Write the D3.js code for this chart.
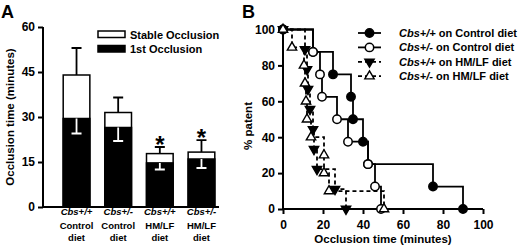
<!DOCTYPE html>
<html>
<head>
<meta charset="UTF-8">
<script src="https://cdnjs.cloudflare.com/ajax/libs/d3/7.8.5/d3.min.js"></script>
<style>
  body { margin: 0; background: #fff; }
  svg { display: block; font-family: "Liberation Sans", Arial, sans-serif; font-weight: bold; }
</style>
</head>
<body>
<div id="chart"></div>
<script>
// ---- panel A data ----
const genotypes = ["Cbs+/+", "Cbs+/-", "Cbs+/+", "Cbs+/-"];
const diets = ["Control", "Control", "HM/LF", "HM/LF"];
const firstOcc = [29.5, 26.5, 14.7, 16.0];
const firstErr = [5.0, 4.5, 2.2, 3.0];
const stableOcc = [44.0, 31.5, 17.8, 18.3];
const stableErr = [9.0, 5.0, 2.2, 4.0];
const significant = [false, false, true, true];
const ticksA = [0, 15, 30, 45, 60];

// ---- panel B data (event times, minutes / % patent) ----
const wtCtrlT = [0, 15, 25, 34, 35, 40, 42.5, 75, 90];
const wtCtrlP = [100, 87.5, 75, 62.5, 50, 37.5, 25, 12.5, 0];
const hetCtrlT = [0, 15, 18.5, 19.5, 27, 32.5, 42.5, 46, 49];
const hetCtrlP = [100, 87.5, 75, 62.5, 50, 37.5, 25, 12.5, 0];
const wtHmT = [0, 11, 12, 12.5, 13.5, 15, 15.5, 17, 26, 31.5];
const wtHmP = [100, 88.9, 77.8, 66.7, 55.6, 44.4, 33.3, 22.2, 11.1, 0];
const hetHmT = [0, 4.5, 10.5, 11, 11.5, 12, 14, 20.5, 20.5, 23, 50.5];
const hetHmP = [100, 90, 80, 70, 60, 50, 40, 30, 20, 10, 0];
const ticksB = [0, 20, 40, 60, 80, 100];

const series = [
  { geno: "Cbs+/+", rest: " on Control diet", t: wtCtrlT, p: wtCtrlP, dash: null, marker: "circle", fill: "#000" },
  { geno: "Cbs+/-", rest: " on Control diet", t: hetCtrlT, p: hetCtrlP, dash: null, marker: "circle", fill: "#fff" },
  { geno: "Cbs+/+", rest: " on HM/LF diet", t: wtHmT, p: wtHmP, dash: "4,3", marker: "down", fill: "#000" },
  { geno: "Cbs+/-", rest: " on HM/LF diet", t: hetHmT, p: hetHmP, dash: "4,3", marker: "up", fill: "#fff" }
];

const svg = d3.select("#chart").append("svg")
  .attr("width", 520).attr("height", 247);

// panel letters
svg.append("text").attr("x", 1).attr("y", 18).style("font-size", "18px").text("A");
svg.append("text").attr("x", 242).attr("y", 18).style("font-size", "18px").text("B");

// ================= Panel A =================
const idx = d3.range(genotypes.length);
const xA = d3.scaleBand().domain(idx).range([55.7, 222.3]).paddingInner(0.36).paddingOuter(0.18);
const yA = d3.scaleLinear().domain([0, 60]).range([207, 27]);

const gA = svg.append("g");

gA.append("g")
  .attr("transform", "translate(43,0)")
  .call(d3.axisLeft(yA).tickValues(ticksA).tickSize(5).tickPadding(3))
  .call(g => g.select(".domain").attr("stroke-width", 2).attr("d", `M0,${yA(60)}V${yA(0)}`))
  .call(g => g.selectAll(".tick line").attr("stroke-width", 2))
  .call(g => g.selectAll(".tick text").style("font-size", "12px").style("font-family", "inherit").style("font-weight", "bold"));

gA.append("line")
  .attr("x1", 42).attr("x2", 219)
  .attr("y1", yA(0)).attr("y2", yA(0))
  .attr("stroke", "#000").attr("stroke-width", 2);

gA.append("text")
  .attr("transform", `translate(14,${(yA(0) + yA(60)) / 2}) rotate(-90)`)
  .attr("text-anchor", "middle")
  .style("font-size", "11.5px")
  .text("Occlusion time (minutes)");

const bw = xA.bandwidth();
// stable (white, total height)
gA.selectAll(".stable").data(idx).enter().append("rect")
  .attr("x", i => xA(i)).attr("width", bw)
  .attr("y", i => yA(stableOcc[i])).attr("height", i => yA(0) - yA(stableOcc[i]))
  .attr("fill", "#fff").attr("stroke", "#000").attr("stroke-width", 1.5);
// first occlusion (black)
gA.selectAll(".first").data(idx).enter().append("rect")
  .attr("x", i => xA(i)).attr("width", bw)
  .attr("y", i => yA(firstOcc[i])).attr("height", i => yA(0) - yA(firstOcc[i]))
  .attr("fill", "#000").attr("stroke", "#000").attr("stroke-width", 1.5);

// error bars: up on the total, down (white) on the first occlusion
idx.forEach(i => {
  const cx = xA(i) + bw / 2;
  gA.append("path")
    .attr("d", `M${cx},${yA(stableOcc[i])}V${yA(stableOcc[i] + stableErr[i])}M${cx - 5},${yA(stableOcc[i] + stableErr[i])}H${cx + 5}`)
    .attr("stroke", "#000").attr("stroke-width", 1.8).attr("fill", "none");
  gA.append("path")
    .attr("d", `M${cx},${yA(firstOcc[i])}V${yA(firstOcc[i] - firstErr[i])}M${cx - 5},${yA(firstOcc[i] - firstErr[i])}H${cx + 5}`)
    .attr("stroke", "#fff").attr("stroke-width", 1.8).attr("fill", "none");
  if (significant[i]) {
    gA.append("text")
      .attr("x", cx).attr("y", yA(stableOcc[i] + stableErr[i]) + 6)
      .attr("text-anchor", "middle")
      .style("font-size", "24px")
      .text("*");
  }
});

// category labels
idx.forEach(i => {
  const cx = xA(i) + bw / 2;
  const t = gA.append("text").attr("text-anchor", "middle").style("font-size", "9.5px");
  t.append("tspan").attr("x", cx).attr("y", 215).style("font-style", "italic").text(genotypes[i]);
  t.append("tspan").attr("x", cx).attr("y", 229).text(diets[i]);
  t.append("tspan").attr("x", cx).attr("y", 241).text("diet");
});

// legend A
const legA = [{ label: "Stable Occlusion", fill: "#fff" }, { label: "1st Occlusion", fill: "#000" }];
legA.forEach((d, i) => {
  gA.append("rect")
    .attr("x", 98).attr("y", 31 + i * 14.5).attr("width", 27).attr("height", 6.5)
    .attr("fill", d.fill).attr("stroke", "#000").attr("stroke-width", 1.5);
  gA.append("text")
    .attr("x", 130).attr("y", 38.5 + i * 14.5)
    .style("font-size", "11px")
    .text(d.label);
});

// ================= Panel B =================
const xB = d3.scaleLinear().domain([0, 100]).range([283, 483]);
const yB = d3.scaleLinear().domain([0, 100]).range([209, 29.5]);
const gB = svg.append("g");

gB.append("g")
  .attr("transform", `translate(0,${yB(0)})`)
  .call(d3.axisBottom(xB).tickValues(ticksB).tickSize(5).tickPadding(6))
  .call(g => g.select(".domain").attr("stroke-width", 2).attr("d", `M${xB(0)},0H${xB(100)}`))
  .call(g => g.selectAll(".tick line").attr("stroke-width", 2))
  .call(g => g.selectAll(".tick text").style("font-size", "12px").style("font-family", "inherit").style("font-weight", "bold"));

gB.append("g")
  .attr("transform", `translate(${xB(0)},0)`)
  .call(d3.axisLeft(yB).tickValues(ticksB).tickSize(5).tickPadding(3))
  .call(g => g.select(".domain").attr("stroke-width", 2).attr("d", `M0,${yB(100)}V${yB(0)}`))
  .call(g => g.selectAll(".tick line").attr("stroke-width", 2))
  .call(g => g.selectAll(".tick text").style("font-size", "12px").style("font-family", "inherit").style("font-weight", "bold"));

gB.append("text")
  .attr("x", (xB(0) + xB(100)) / 2).attr("y", 243)
  .attr("text-anchor", "middle")
  .style("font-size", "11.5px")
  .text("Occlusion time (minutes)");

gB.append("text")
  .attr("transform", `translate(252,126) rotate(-90)`)
  .attr("text-anchor", "middle")
  .style("font-size", "11.5px")
  .text("% patent");

const step = d3.line().x(d => xB(d[0])).y(d => yB(d[1])).curve(d3.curveStepAfter);

function marker(sel, s, x, y) {
  if (s.marker === "circle") {
    sel.append("circle").attr("cx", x).attr("cy", y).attr("r", 4.2)
      .attr("fill", s.fill).attr("stroke", "#000").attr("stroke-width", 1.5);
  } else {
    sel.append("path")
      .attr("d", d3.symbol(d3.symbolTriangle, 38)())
      .attr("transform", `translate(${x},${y})` + (s.marker === "down" ? " rotate(180)" : ""))
      .attr("fill", s.fill).attr("stroke", "#000").attr("stroke-width", 1.4);
  }
}

series.forEach(s => {
  const pts = s.t.map((t, i) => [t, s.p[i]]);
  gB.append("path")
    .attr("d", step(pts))
    .attr("fill", "none").attr("stroke", "#000").attr("stroke-width", 1.8)
    .attr("stroke-dasharray", s.dash);
});
series.forEach(s => {
  s.t.forEach((t, i) => marker(gB, s, xB(t), yB(s.p[i])));
});

// legend B
series.forEach((s, i) => {
  const y = 33 + i * 14.4;
  gB.append("line").attr("x1", 358).attr("x2", 381).attr("y1", y).attr("y2", y)
    .attr("stroke", "#000").attr("stroke-width", 1.8).attr("stroke-dasharray", s.dash);
  marker(gB, s, 369.5, y);
  const t = gB.append("text").attr("x", 399).attr("y", y + 4).style("font-size", "11px");
  t.append("tspan").style("font-style", "italic").text(s.geno);
  t.append("tspan").text(s.rest);
});
</script>
</body>
</html>
